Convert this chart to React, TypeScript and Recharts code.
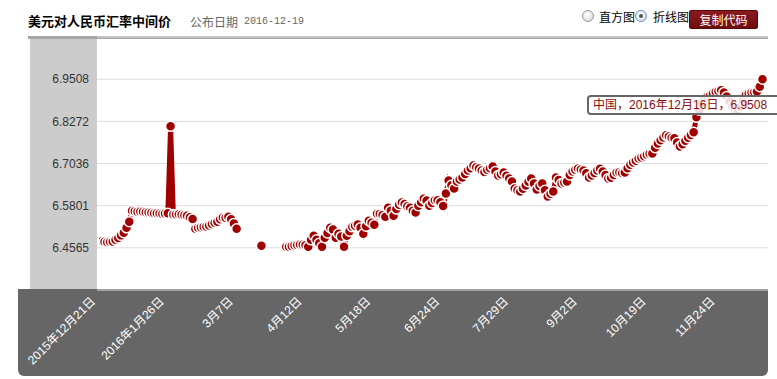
import React from 'react';
import { LineChart, Line, XAxis, YAxis, CartesianGrid } from 'recharts';

// 中间价 2015-12-21 ~ 2016-12-16（按交易日顺序，null 为缺失）
const rates: (number | null)[] = [
  6.4753, 6.4757, 6.4740, 6.4730, 6.4740, 6.4750, 6.4800, 6.4850, 6.4930, 6.5010,
  6.5150, 6.5330, 6.5654, 6.5636, 6.5626, 6.5628, 6.5620, 6.5610, 6.5600, 6.5590,
  6.5580, 6.5575, 6.5570, 6.5565, 6.5570, 6.5575, 6.8126, 6.5540, 6.5545, 6.5550,
  6.5536, 6.5520, 6.5507, 6.5460, 6.5410, 6.5124, 6.5150, 6.5170, 6.5185, 6.5192,
  6.5220, 6.5260, 6.5300, 6.5330, 6.5400, 6.5457, 6.5450, 6.5477, 6.5400, 6.5280,
  6.5124, null, null, null, null, null, null, null, null, 6.4624,
  null, null, null, null, null, null, null, null, 6.4594, 6.4600,
  6.4620, 6.4640, 6.4650, 6.4660, 6.4655, 6.4640, 6.4594, 6.4800, 6.4918, 6.4800,
  6.4700, 6.4594, 6.4860, 6.5000, 6.5154, 6.5100, 6.4860, 6.4977, 6.4900, 6.4594,
  6.4918, 6.5050, 6.5180, 6.5210, 6.5250, 6.5150, 6.4977, 6.5200, 6.5360, 6.5300,
  6.5242, 6.5566, 6.5560, 6.5530, 6.5477, 6.5742, 6.5650, 6.5507, 6.5700, 6.5831,
  6.5890, 6.5850, 6.5780, 6.5742, 6.5650, 6.5600, 6.5801, 6.5900, 6.6007, 6.5950,
  6.5801, 6.5880, 6.5960, 6.5960, 6.5900, 6.5790, 6.6154, 6.6537, 6.6400, 6.6301,
  6.6510, 6.6570, 6.6625, 6.6730, 6.6831, 6.6900, 6.6978, 6.6930, 6.6890, 6.6830,
  6.6790, 6.6850, 6.6900, 6.6949, 6.6800, 6.6684, 6.6720, 6.6772, 6.6680, 6.6600,
  6.6507, 6.6301, 6.6250, 6.6213, 6.6300, 6.6390, 6.6500, 6.6596, 6.6450, 6.6272,
  6.6380, 6.6449, 6.6250, 6.6066, 6.6150, 6.6213, 6.6625, 6.6550, 6.6449, 6.6480,
  6.6507, 6.6700, 6.6800, 6.6850, 6.6890, 6.6860, 6.6831, 6.6750, 6.6625, 6.6684,
  6.6760, 6.6830, 6.6881, 6.6800, 6.6700, 6.6596, 6.6620, 6.6700, 6.6772, 6.6780,
  6.6760, 6.6772, 6.6900, 6.7000, 6.7067, 6.7120, 6.7180, 6.7214, 6.7250, 6.7290,
  6.7320, 6.7332, 6.7500, 6.7626, 6.7720, 6.7800, 6.7861, 6.7830, 6.7790, 6.7773,
  6.7650, 6.7538, 6.7600, 6.7700, 6.7790, 6.7870, 6.7949, 6.8390, 6.8597, 6.8800,
  6.8950, 6.9000, 6.9038, 6.9090, 6.9140, 6.9160, 6.9186, 6.9120, 6.9000, 6.8850,
  6.8700, 6.8620, 6.8597, 6.8700, 6.8880, 6.9050, 6.9097, 6.9120, 6.9127, 6.9150,
  6.9289, 6.9508,
];

const tickIdx = [0, 25, 50, 75, 100, 125, 150, 175, 200, 225];
const tickLabels = ['2015年12月21日', '2016年1月26日', '3月7日', '4月12日', '5月18日', '6月24日', '7月29日', '9月2日', '10月19日', '11月24日'];
const yTicks = [6.4565, 6.5801, 6.7036, 6.8272, 6.9508];

const data = rates.map((v, i) => ({ i, v }));

const FONT = "Arial, 'Liberation Sans', 'Noto Sans CJK SC', sans-serif";
const CJK = "'Noto Sans CJK SC', Arial, sans-serif";
const RED = '#a00000';

const XTick = ({ x, y, payload }: any) => {
  const label = tickLabels[tickIdx.indexOf(payload.value)] ?? '';
  const tx = x - 3;
  const ty = y + 12;
  return (
    <text x={tx} y={ty} transform={`rotate(-45 ${tx} ${ty})`} textAnchor="end" fill="#fff" fontSize={12} fontFamily={FONT}>
      {label}
    </text>
  );
};

const Radio = ({ left, checked }: { left: number; checked?: boolean }) => (
  <div style={{
    position: 'absolute', left, top: 10, width: 12, height: 12, borderRadius: '50%',
    border: '1px solid ' + (checked ? '#6a8fc8' : '#9a9a9a'),
    background: 'radial-gradient(circle at 40% 35%, #ffffff, #d4d4d4)',
    boxSizing: 'border-box',
  }}>
    {checked && <div style={{ position: 'absolute', left: 3, top: 3, width: 4, height: 4, borderRadius: '50%', background: '#555' }} />}
  </div>
);

export default function App() {
  return (
    <div style={{ position: 'absolute', left: 0, top: 0, width: 777, height: 379, overflow: 'hidden', background: '#fff', fontFamily: CJK }}>
      {/* header */}
      <div style={{ position: 'absolute', left: 28, top: 13, fontSize: 13, fontWeight: 'bold', lineHeight: '16px', color: '#000' }}>美元对人民币汇率中间价</div>
      <div style={{ position: 'absolute', left: 190, top: 14, fontSize: 12, lineHeight: '15px', color: '#666' }}>公布日期</div>
      <div style={{ position: 'absolute', left: 244, top: 15, fontSize: 10, lineHeight: '14px', color: '#666', fontFamily: "'Liberation Mono', monospace" }}>2016-12-19</div>
      <Radio left={582} />
      <div style={{ position: 'absolute', left: 599, top: 9, fontSize: 12, lineHeight: '16px', color: '#000' }}>直方图</div>
      <Radio left={635} checked />
      <div style={{ position: 'absolute', left: 653, top: 9, fontSize: 12, lineHeight: '16px', color: '#000' }}>折线图</div>
      <div style={{
        position: 'absolute', left: 689, top: 10, width: 69, height: 19, boxSizing: 'border-box',
        background: 'linear-gradient(#8c1a1f, #6e0c10)', border: '1px solid #5a080b', borderRadius: 2,
        color: '#fff', fontSize: 12, lineHeight: '17px', textAlign: 'center',
      }}>复制代码</div>
      <div style={{ position: 'absolute', left: 28, top: 36, width: 740, height: 3, background: '#a6a6a6' }} />

      {/* axis panels */}
      <div style={{ position: 'absolute', left: 30, top: 39, width: 67, height: 250, background: '#cccccc' }} />
      <div style={{ position: 'absolute', left: 18, top: 289, width: 750, height: 87, background: '#666666', borderRadius: '0 0 6px 6px' }} />

      <div style={{ position: 'absolute', left: 0, top: 0 }}>
        <LineChart width={777} height={379} data={data} margin={{ top: 37, right: 9, bottom: 4, left: 30 }}>
          <CartesianGrid vertical={false} stroke="#dddddd" />
          <XAxis
            dataKey="i"
            type="number"
            domain={[0, 243]}
            ticks={tickIdx}
            padding={{ left: 2, right: 0 }}
            allowDataOverflow
            height={85}
            axisLine={false}
            tickLine={false}
            tickSize={0}
            tickMargin={0}
            interval={0}
            tick={<XTick />}
          />
          <YAxis
            type="number"
            domain={[6.3329, 7.0744]}
            ticks={yTicks}
            allowDataOverflow
            width={67}
            axisLine={false}
            tickLine={false}
            tickSize={8}
            tickMargin={0}
            interval={0}
            tickFormatter={(v: number) => v.toFixed(4)}
            tick={{ fill: '#333', fontSize: 12, fontFamily: FONT }}
          />
          <Line
            type="linear"
            dataKey="v"
            stroke={RED}
            strokeWidth={5}
            connectNulls={false}
            dot={{ r: 5, fill: RED, stroke: '#fff', strokeWidth: 1.5 }}
            activeDot={false}
            isAnimationActive={false}
          />
        </LineChart>
      </div>

      {/* tooltip */}
      <div style={{
        position: 'absolute', left: 587, top: 95, width: 200, height: 20, boxSizing: 'border-box',
        border: '2px solid #666', borderRadius: 4, background: 'rgba(255,255,255,0.85)',
        color: '#8b0a0a', fontSize: 12, lineHeight: '16px', paddingLeft: 4, whiteSpace: 'nowrap', fontFamily: FONT,
      }}>中国，2016年12月16日，6.9508</div>
    </div>
  );
}
